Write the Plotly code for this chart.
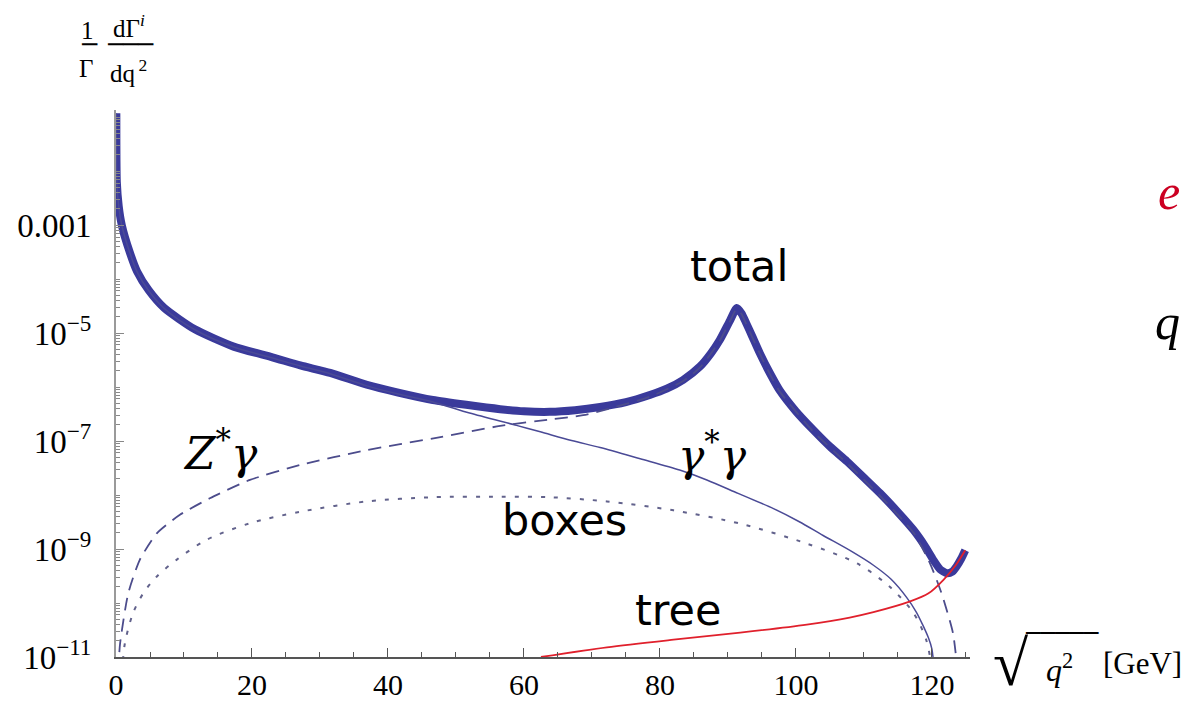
import plotly.graph_objects as go

# ---------------- data ----------------
total_x = [0.05, 0.12, 0.4, 0.85, 2.0, 3.1, 4.8, 7.1, 11.6, 17.3, 23.0, 27.1, 31.5, 36.9,
           41.5, 46.6, 51.5, 56.5, 60.0, 63.8, 67.5, 71.2, 75.0, 78.5, 81.0, 83.4, 85.9,
           87.5, 88.8, 90.3, 91.3, 92.0, 92.7, 93.5, 94.7, 96.2, 97.6, 100.0, 102.6,
           105.0, 107.5, 110.0, 112.4, 115.0, 117.3, 119.0, 120.2, 121.2, 122.2, 123.0,
           123.6, 124.3, 124.9]
total_y = [1.17e-1, 6.3e-3, 2.24e-3, 1.0e-3, 3.2e-4, 1.38e-4, 6.2e-5, 2.9e-5, 1.17e-5,
           5.6e-6, 3.55e-6, 2.51e-6, 1.82e-6, 1.1e-6, 7.9e-7, 5.75e-7, 4.68e-7, 3.89e-7,
           3.55e-7, 3.47e-7, 3.72e-7, 4.27e-7, 5.25e-7, 7.1e-7, 9.3e-7, 1.35e-6, 2.4e-6,
           4.2e-6, 7.4e-6, 1.7e-5, 2.9e-5, 2.3e-5, 1.51e-5, 9.1e-6, 4.2e-6, 1.78e-6,
           8.7e-7, 3.55e-7, 1.58e-7, 7.9e-8, 4.2e-8, 2.1e-8, 1.07e-8, 4.8e-9, 2.24e-9,
           1.12e-9, 6.3e-10, 4.2e-10, 3.55e-10, 3.8e-10, 4.7e-10, 6.6e-10, 9.5e-10]

gg_x = [0.05, 0.12, 0.4, 0.85, 2.0, 3.1, 4.8, 7.1, 11.6, 17.3, 23.0, 27.1, 31.5, 36.9,
        41.5, 46.6, 52.0, 58.9, 62.4, 67.0, 71.2, 77.1, 82.9, 86.9, 91.5, 96.7, 100.5,
        104.0, 108.0, 111.4, 114.0, 116.3, 117.7, 118.7, 119.5, 120.0, 120.5]
gg_y = [1.16e-1, 6.2e-3, 2.2e-3, 9.9e-4, 3.15e-4, 1.36e-4, 6.1e-5, 2.85e-5, 1.15e-5,
        5.5e-6, 3.45e-6, 2.45e-6, 1.76e-6, 1.05e-6, 7.4e-7, 5.3e-7, 3.3e-7, 1.95e-7,
        1.48e-7, 1.02e-7, 7.6e-8, 4.7e-8, 2.9e-8, 1.9e-8, 1.07e-8, 5.6e-9, 3.2e-9,
        1.78e-9, 9.3e-10, 5.0e-10, 2.75e-10, 1.26e-10, 6.8e-11, 3.8e-11, 2.24e-11,
        1.4e-11, 3.2e-12]

zg_x = [0.3, 0.6, 1.8, 3.5, 6.0, 9.4, 13.8, 19.7, 27.1, 36.9, 46.7, 56.5, 63.8, 68.7,
        72.0, 78.5, 83.4, 85.9, 88.8, 90.3, 91.3, 92.0, 92.7, 93.5, 94.7, 96.2, 97.6,
        102.6, 107.5, 112.4, 117.3, 119.7, 121.5, 123.1, 123.8]
zg_y = [5.0e-12, 1.78e-11, 1.51e-10, 6.3e-10, 1.95e-9, 4.3e-9, 8.7e-9, 1.9e-8, 3.6e-8, 6.8e-8,
        1.12e-7, 1.9e-7, 2.5e-7, 3.0e-7, 3.8e-7, 6.6e-7, 1.29e-6, 2.3e-6, 7.2e-6, 1.65e-5,
        2.8e-5, 2.24e-5, 1.46e-5, 8.8e-6, 4.1e-6, 1.72e-6, 8.3e-7, 1.48e-7, 3.9e-8, 9.5e-9,
        2.0e-9, 5.5e-10, 1.41e-10, 2.75e-11, 5.0e-12]

box_x = [0.9, 1.3, 2.5, 4.0, 6.0, 8.9, 13.3, 19.7, 27.1, 36.9, 46.7, 56.5, 63.8, 72.2,
         82.0, 91.8, 101.6, 109.0, 113.8, 117.3, 119.2, 120.1]
box_y = [5.0e-12, 1.78e-11, 6.5e-11, 1.51e-10, 3.1e-10, 6.3e-10, 1.48e-9, 3.0e-9, 4.9e-9,
         7.6e-9, 9.1e-9, 9.3e-9, 9.1e-9, 7.6e-9, 5.2e-9, 2.95e-9, 1.26e-9, 5.4e-10, 2.0e-10,
         6.5e-11, 2.0e-11, 5.0e-12]

tree_x = [62.5, 72.2, 82.0, 91.8, 101.6, 107.9, 111.4, 116.8, 119.5, 121.7, 123.5, 124.9]
tree_y = [1.0e-11, 1.51e-11, 2.09e-11, 2.82e-11, 3.98e-11, 5.37e-11, 6.76e-11, 1.07e-10,
          1.51e-10, 2.69e-10, 5.0e-10, 9.5e-10]

x_ticks = [0, 20, 40, 60, 80, 100, 120]
y_ticks = [1e-11, 1e-9, 1e-7, 1e-5, 1e-3]
y_ticktext = ["10<sup>\u221211</sup>", "10<sup>\u22129</sup>", "10<sup>\u22127</sup>",
              "10<sup>\u22125</sup>", "0.001"]

# ---------------- figure ----------------
# the page body adds an 8px margin on every side; size the figure so it fits
OFF = 8
W, H = 1191 - 2 * OFF, 704 - 2 * OFF
PL, PT, PR, PB = 116, 110, 970, 657          # plot box in screen pixels
L, T = PL - OFF, PT - OFF
R, B = W - (PR - OFF), H - (PB - OFF)
PW, PH = PR - PL, PB - PT


def pp(xs, ys):
    return (xs - PL) / PW, (PB - ys) / PH


fig = go.Figure()
fig.add_trace(go.Scatter(x=total_x, y=total_y, mode="lines",
                         line=dict(color="#3a3a9b", width=8, shape="spline", smoothing=0.6)))
fig.add_trace(go.Scatter(x=gg_x, y=gg_y, mode="lines",
                         line=dict(color="#4a4a96", width=1.5, shape="spline", smoothing=0.8)))
fig.add_trace(go.Scatter(x=zg_x, y=zg_y, mode="lines",
                         line=dict(color="#4c4c8c", width=1.8, dash="13px,8px",
                                   shape="spline", smoothing=0.6)))
fig.add_trace(go.Scatter(x=box_x, y=box_y, mode="lines",
                         line=dict(color="#62628c", width=2, dash="4px,9px",
                                   shape="spline", smoothing=0.8)))
fig.add_trace(go.Scatter(x=tree_x, y=tree_y, mode="lines",
                         line=dict(color="#e0202c", width=1.8, shape="spline", smoothing=0.8)))

minor_y = [m * 10.0 ** e for e in range(-11, 0) for m in range(1, 10)]

fig.update_layout(
    width=W, height=H, margin=dict(l=L, r=R, t=T, b=B, autoexpand=False),
    plot_bgcolor="white", paper_bgcolor="white", showlegend=False,
    xaxis=dict(range=[0, 125.6], showline=True, linecolor="#555555", linewidth=1.5,
               automargin=False,
               tickmode="array", tickvals=x_ticks, ticks="inside", ticklen=9,
               tickwidth=1.2, tickcolor="#555555", showgrid=False, zeroline=False,
               minor=dict(ticks="inside", ticklen=5, tickwidth=1, tickcolor="#555555",
                          dtick=5, tick0=0, showgrid=False),
               tickfont=dict(family="Liberation Serif", size=30, color="black"),
               ticklabelstandoff=0),
    yaxis=dict(type="log", range=[-11, -0.87], showline=True, linecolor="#9a9a9a",
               linewidth=2, automargin=False,
               tickmode="array", tickvals=y_ticks, ticktext=y_ticktext,
               ticks="inside", ticklen=8, tickwidth=1.2, tickcolor="#888888",
               showgrid=False, zeroline=False,
               minor=dict(ticks="inside", ticklen=4, tickwidth=1, tickcolor="#888888",
                          tickmode="array", tickvals=minor_y, showgrid=False),
               tickfont=dict(family="Liberation Serif", size=33, color="black"),
               ticklabelstandoff=16),
)

ann = []


def add(text, xs, ys, size, family="DejaVu Sans", color="black", xanchor="center",
        yanchor="middle"):
    x, y = pp(xs, ys)
    ann.append(dict(text=text, x=x, y=y, xref="paper", yref="paper", showarrow=False,
                    xanchor=xanchor, yanchor=yanchor,
                    font=dict(family=family, size=size, color=color)))


add("total", 739, 266, 43)
add("boxes", 564, 520, 43)
add("tree", 678, 610, 43)
add("<i>Z</i><sup>*</sup><i>\u03b3</i>", 220, 450, 44, family="DejaVu Serif")
add("<i>\u03b3</i><sup>*</sup><i>\u03b3</i>", 712, 452, 44, family="DejaVu Serif")

# x-axis title: sqrt(q^2) [GeV]
add("\u221a", 1011, 664, 64, family="Liberation Serif")
add("\u2500\u2500\u2500\u2500\u2500", 1062, 633, 24, family="DejaVu Sans Mono")
add("<i>q</i><sup>2</sup>", 1059, 668, 32, family="Liberation Serif")
add("[GeV]", 1142, 664, 31, family="Liberation Serif")

# y-axis title as a stacked fraction
add("1", 87, 30, 25, family="Liberation Serif")
add("\u2500", 89, 45, 25, family="DejaVu Sans Mono")
add("\u0393", 86, 69, 25, family="Liberation Serif")
add("d\u0393<sup><i>i</i></sup>", 129, 26, 25, family="Liberation Serif")
add("\u2500\u2500\u2500", 130, 45, 25, family="DejaVu Sans Mono")
add("dq<sup>\u20092</sup>", 128, 71, 25, family="Liberation Serif")

# cropped letters at the right edge
add("<i>e</i>", 1182, 192, 50, family="Liberation Serif", color="#cc0022", xanchor="right")
add("<i>q</i>", 1182, 322, 50, family="Liberation Serif", xanchor="right")

fig.update_layout(annotations=ann)
fig.write_html("out.html")
